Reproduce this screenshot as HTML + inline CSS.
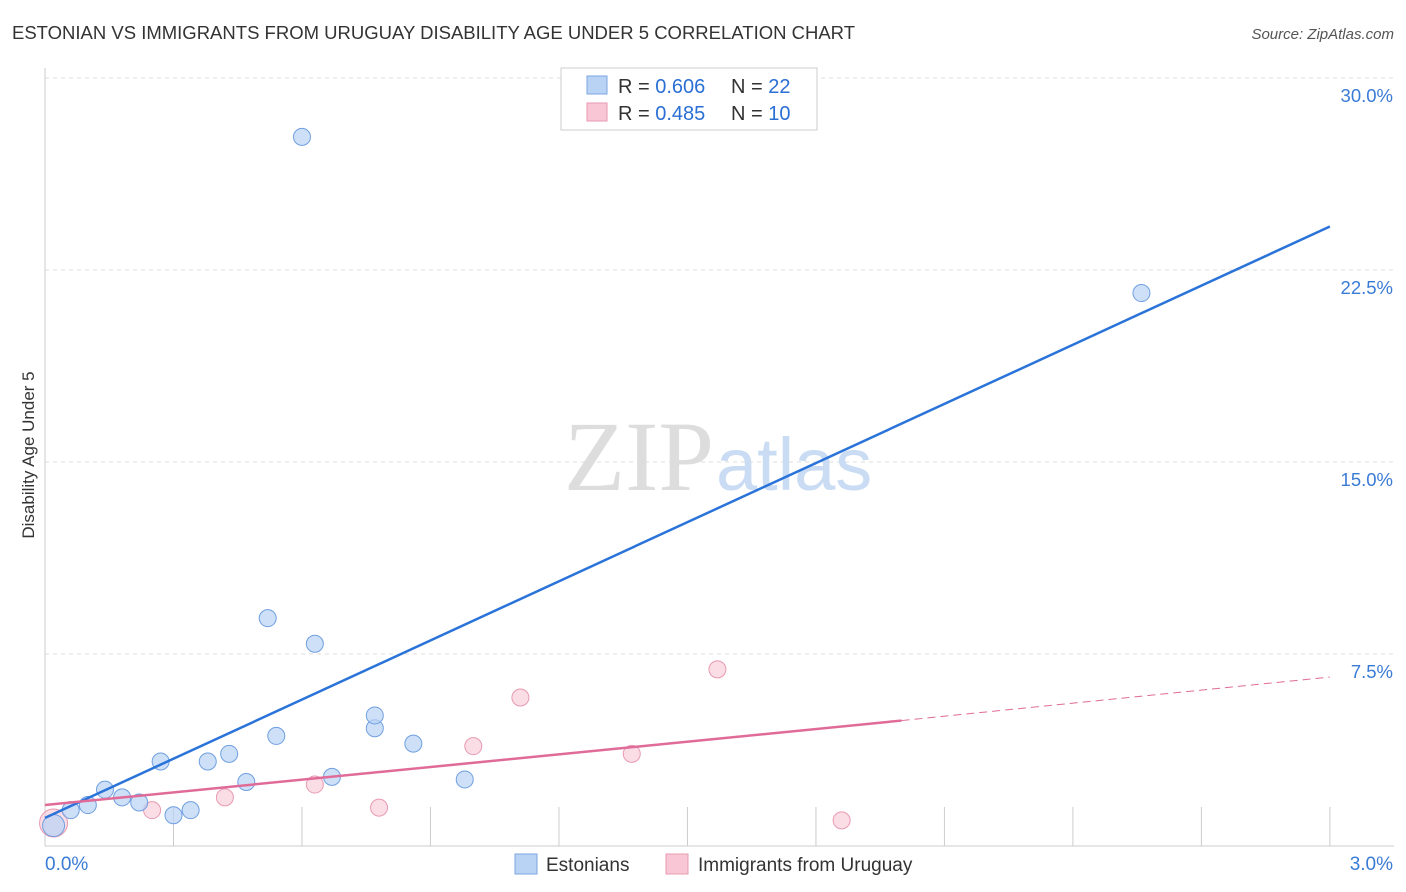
<!DOCTYPE html>
<html><head><meta charset="utf-8"><style>
body{margin:0;background:#fff;font-family:"Liberation Sans",sans-serif}
svg{display:block}
</style></head><body>
<svg width="1406" height="892" id="c">
<text x="12" y="39" font-size="18" fill="#333" textLength="843" lengthAdjust="spacingAndGlyphs">ESTONIAN VS IMMIGRANTS FROM URUGUAY DISABILITY AGE UNDER 5 CORRELATION CHART</text>
<text x="1394" y="39" font-size="15" fill="#555" font-style="italic" text-anchor="end">Source: ZipAtlas.com</text>
<text x="34" y="455" font-size="17" fill="#333" text-anchor="middle" transform="rotate(-90 34 455)">Disability Age Under 5</text>
<g id="grid"></g>
<text x="714" y="490" font-size="100" fill="#ddd" text-anchor="end" font-family="Liberation Serif,serif">ZIP</text>
<text x="716" y="490" font-size="74" fill="#c9dcf3">atlas</text>
<g id="marks"></g>
<g>
<rect x="561" y="68" width="256" height="62" fill="#fff" stroke="#ccc"/>
<rect x="587" y="76" width="20" height="18" fill="#b9d3f5" stroke="#7aa5e0"/>
<rect x="587" y="103" width="20" height="18" fill="#f9c6d5" stroke="#e89ab2"/>
<text x="618" y="93" font-size="20" fill="#333">R = <tspan fill="#2a6fd4">0.606</tspan></text>
<text x="731" y="93" font-size="20" fill="#333">N = <tspan fill="#2a6fd4">22</tspan></text>
<text x="618" y="120" font-size="20" fill="#333">R = <tspan fill="#2a6fd4">0.485</tspan></text>
<text x="731" y="120" font-size="20" fill="#333">N = <tspan fill="#2a6fd4">10</tspan></text>
</g>
<g>
<rect x="515" y="854" width="22" height="20" fill="#b9d3f5" stroke="#7aa5e0"/>
<text x="546" y="871" font-size="19" fill="#333">Estonians</text>
<rect x="666" y="854" width="22" height="20" fill="#f9c6d5" stroke="#e89ab2"/>
<text x="698" y="871" font-size="19" fill="#333">Immigrants from Uruguay</text>
</g>
</svg>
<script>
const blueX=[0.02,0.06,0.10,0.14,0.18,0.22,0.27,0.30,0.34,0.38,0.43,0.47,0.52,0.54,0.60,0.63,0.67,0.77,0.77,0.86,0.98,2.56];
const blueY=[0.8,1.4,1.6,2.2,1.9,1.7,3.3,1.2,1.4,3.3,3.6,2.5,8.9,4.3,27.7,7.9,2.7,4.6,5.1,4.0,2.6,21.6];
const pinkX=[0.02,0.25,0.42,0.63,0.78,1.00,1.11,1.37,1.57,1.86];
const pinkY=[0.9,1.4,1.9,2.4,1.5,3.9,5.8,3.6,6.9,1.0];
const yTicks=[7.5,15.0,22.5,30.0];
const xTickLabels=["0.0%","3.0%"];
const blueLine=[0,1.1,3.0,24.2];
const pinkLine=[0,1.6,2.0,4.9,3.0,6.6];
const X=v=>45+v*428.3, Y=v=>846-v*25.6;
const ns="http://www.w3.org/2000/svg";
function mk(p,t,a){const e=document.createElementNS(ns,t);for(const k in a)e.setAttribute(k,a[k]);p.appendChild(e);return e;}
const g=document.getElementById('grid'),m=document.getElementById('marks');
mk(g,'line',{x1:45,y1:68,x2:45,y2:846,stroke:'#ccc'});
mk(g,'line',{x1:45,y1:846,x2:1394,y2:846,stroke:'#ccc'});
for(const t of yTicks){
 const l=mk(g,'line',{x1:45,y1:Y(t),x2:1394,y2:Y(t),stroke:'#ddd','stroke-dasharray':'4,4'});
 
 
 const tx=mk(g,'text',{x:1393,y:Y(t)+24,'font-size':18.5,fill:'#3a7bd5','text-anchor':'end'});
 tx.textContent=t.toFixed(1)+'%';
 
 
}
for(let i=1;i<=10;i++){const x=X(i*0.3);const l=mk(g,'line',{x1:x,y1:807,x2:x,y2:846,stroke:'#ccc'});
 
 }
const t0=mk(g,'text',{x:45,y:870,'font-size':19,fill:'#3a7bd5'});t0.textContent=xTickLabels[0];


const t1=mk(g,'text',{x:1393,y:870,'font-size':19,fill:'#3a7bd5','text-anchor':'end'});t1.textContent=xTickLabels[1];


pinkX.forEach((x,i)=>{const c=mk(m,'circle',{cx:X(x),cy:Y(pinkY[i]),r:i==0?14:8.5,fill:'#f9c6d5','fill-opacity':0.6,stroke:'#e89ab2'});
 
 });
blueX.forEach((x,i)=>{const c=mk(m,'circle',{cx:X(x),cy:Y(blueY[i]),r:i==0?11:8.5,fill:'#b9d3f5','fill-opacity':0.7,stroke:'#6f9fe0'});
 
 });
const bl=mk(m,'line',{x1:X(blueLine[0]),y1:Y(blueLine[1]),x2:X(blueLine[2]),y2:Y(blueLine[3]),stroke:'#2a73d9','stroke-width':2.5});


const pl=mk(m,'line',{x1:X(pinkLine[0]),y1:Y(pinkLine[1]),x2:X(pinkLine[2]),y2:Y(pinkLine[3]),stroke:'#e06b98','stroke-width':2.5});


const pd=mk(m,'line',{x1:X(pinkLine[2]),y1:Y(pinkLine[3]),x2:X(pinkLine[4]),y2:Y(pinkLine[5]),stroke:'#e06b98','stroke-width':1,'stroke-dasharray':'8,5'});


</script>
</body></html>
